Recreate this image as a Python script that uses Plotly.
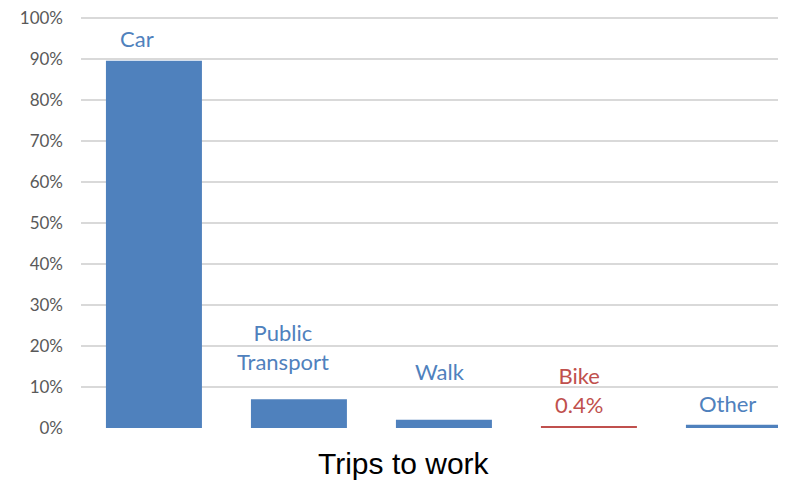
import plotly.graph_objects as go

categories = ["Car", "Public Transport", "Walk", "Bike", "Other"]
shares = [0.896, 0.070, 0.020, 0.004, 0.008]
label_texts = ["Car", "Public<br>Transport", "Walk", "Bike<br>0.4%", "Other"]
bar_colors = ["#4F81BD", "#4F81BD", "#4F81BD", "#C0504D", "#4F81BD"]
tick_values = [0.0, 0.1, 0.2, 0.3, 0.4, 0.5, 0.6, 0.7, 0.8, 0.9, 1.0]

# label placement (centre height in axis units, horizontal pixel nudge)
label_y = [0.951, 0.197, 0.139, 0.092, 0.061]
label_dx = [-17, -16, -4, -10, -6]

fig = go.Figure()
fig.add_trace(go.Bar(
    x=categories, y=shares, marker=dict(color=bar_colors, line=dict(width=0)),
    width=0.662, hoverinfo="skip"))

for cat, txt, ly, dx, col in zip(categories, label_texts, label_y, label_dx, bar_colors):
    fig.add_annotation(x=cat, y=ly, xref="x", yref="y", text=txt, showarrow=False,
                       xshift=dx, yanchor="middle", xanchor="center",
                       font=dict(family="Lato, Open Sans, sans-serif", size=22, color=col))

fig.add_annotation(x=0.4634, y=-0.086, xref="paper", yref="paper",
                   text="Trips to work", showarrow=False, xanchor="center", yanchor="middle",
                   font=dict(family="Liberation Sans, Arial, sans-serif", size=30, color="#000000"))

fig.update_layout(
    width=770, height=473,
    margin=dict(l=73, r=0, t=9, b=53),
    paper_bgcolor="white", plot_bgcolor="white",
    showlegend=False,
    xaxis=dict(range=[-0.503, 4.304], showticklabels=False, showgrid=False,
               zeroline=False, showline=False, fixedrange=True),
    yaxis=dict(range=[0, 1.003], tickvals=tick_values, tickformat=".0%",
               showgrid=True, gridcolor="#D9D9D9", gridwidth=1.5, zeroline=False, showline=False,
               ticklabelstandoff=17, ticklabeloverflow="allow",
               tickfont=dict(family="Lato, Open Sans, sans-serif", size=17, color="#595959")),
)

fig.write_html("out.html")
